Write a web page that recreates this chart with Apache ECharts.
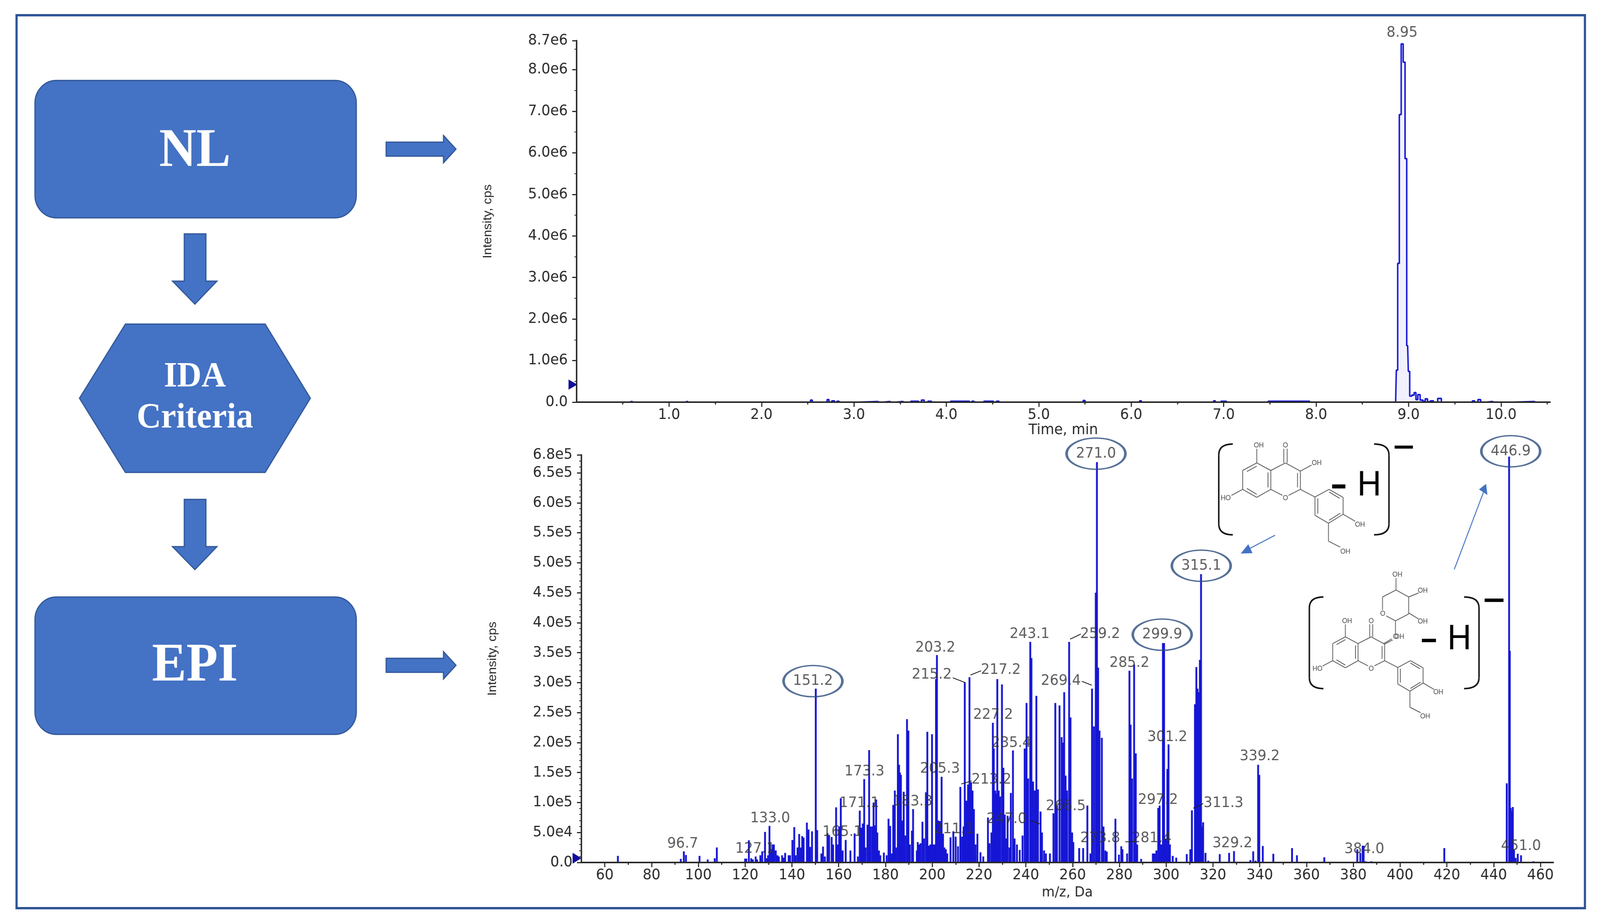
<!DOCTYPE html>
<html>
<head>
<meta charset="utf-8">
<title>NL / IDA / EPI</title>
<style>
  html, body { margin: 0; padding: 0; background: #fff; overflow: hidden; }
  #main { width: 4351px; height: 2364px; transform-origin: 0 0; }
</style>
<script src="https://cdn.jsdelivr.net/npm/echarts@6/dist/echarts.min.js"></script>
</head>
<body>
<div id="main"></div>
<script>
// tick labels
var ticYTicks = [0, 1e6, 2e6, 3e6, 4e6, 5e6, 6e6, 7e6, 8e6, 8.7e6];
var ticXTicks = [1, 2, 3, 4, 5, 6, 7, 8, 9, 10];
var ticXMinor = [0.5, 1.5, 2.5, 3.5, 4.5, 5.5, 6.5, 7.5, 8.5, 9.5, 10.5];
var epiYTicks = [0, 5e4, 1e5, 1.5e5, 2e5, 2.5e5, 3e5, 3.5e5, 4e5, 4.5e5, 5e5, 5.5e5, 6e5, 6.5e5, 6.8e5];
var epiXTicks = [60, 80, 100, 120, 140, 160, 180, 200, 220, 240, 260, 280, 300, 320, 340, 360, 380, 400, 420, 440, 460];
var epiXMinor = [70, 90, 110, 130, 150, 170, 190, 210, 230, 250, 270, 290, 310, 330, 350, 370, 390, 410, 430, 450];

// NL trace, time (min) and intensity (cps)
var ticPoints = [
  [0.57,0],[0.59,1.5e4],[0.61,0],[1.17,0],[1.19,1.5e4],[1.21,0],
  [2.52,0],[2.54,5e4],[2.56,0],[2.70,0],[2.72,6e4],[2.74,0],[2.78,3e4],[2.80,0],[2.83,2e4],[2.85,0],
  [3.25,1.5e4],[3.27,0],[3.38,1.5e4],[3.40,0],[3.52,1.5e4],[3.54,0],[3.69,2e4],[3.71,0],[3.75,5e4],[3.77,0],[3.83,2e4],[3.85,0],
  [4.24,2e4],[4.26,0],[4.29,2e4],[4.31,0],[4.50,2e4],[4.52,0],[4.56,2e4],[4.58,0],
  [5.47,0],[5.49,4e4],[5.51,0],[6.08,0],[6.10,3e4],[6.12,0],[6.88,0],[6.90,3e4],[6.92,0],[7.02,2e4],[7.04,0],[7.92,2e4],[7.94,0],
  [8.86,0],[8.875,0.77e6],[8.89,3.34e6],[8.91,6.92e6],[8.93,8.62e6],[8.954,8.18e6],[8.97,5.86e6],[8.99,1.36e6],
  [9.005,0.74e6],[9.02,0.145e6],[9.05,0.17e6],[9.07,0.23e6],[9.09,0.06e6],[9.11,0.18e6],[9.14,0.05e6],[9.17,0.02e6],[9.19,0.08e6],
  [9.22,0.01e6],[9.25,0.03e6],[9.29,0],[9.34,0.09e6],[9.37,0],
  [9.68,0],[9.70,3e4],[9.73,0],[9.77,6e4],[9.79,0],[9.90,1.5e4],[9.92,0],[10.35,1.5e4],[10.37,0]
];

// EPI spectrum, m/z and intensity (cps)
var epiPeaks = [
  [65.6,1.1e4],[92.5,6e3],[93.8,1.85e4],[94.7,1.25e4],[100.5,1.1e4],[104,5e3],[107,7e3],[107.9,2.5e4],
  [120,6.5e3],[120.5,6.5e3],[121.6,3.7e4],[122.6,7e3],[123.3,5e3],[124.5,1e4],[125.1,5e3],[126.5,1.2e4],[127.3,1.85e4],
  [128.5,5.1e4],[129.2,7e3],[129.8,1.2e4],[130.4,6.1e4],[131.1,2.2e4],[131.8,3e4],[132.3,3e4],[133.1,2e4],[133.8,1.2e4],[134.4,1e4],
  [135.8,1.2e4],[136.4,8e3],[137.1,1.6e4],[138.6,1.2e4],[139.2,1.2e4],[140.2,3.75e4],[141,5.9e4],[141.6,1.2e4],[142.4,2.5e4],[143.1,4.75e4],
  [143.8,2.5e4],[144.4,4.4e4],[145,4.15e4],[146.4,6.65e4],[147.1,5.5e4],[147.8,2.6e4],[148.6,5.2e4],[150.2,2.9e5],[150.8,5.4e4],
  [152.6,1.5e4],[153.3,2.65e4],[154.1,1e4],[155.2,4.9e4],[155.9,4.5e4],[157,4.25e4],[157.6,3e4],[158.9,9.2e4],[159.5,3e4],[160.2,6e4],[160.9,1.07e5],
  [161.7,2e4],[163,3.75e4],[165,2e4],[166.8,4.85e4],[168.2,1e4],[169,8.65e4],[169.7,5.8e4],[170.3,6.5e4],[170.9,1.39e5],[171.5,2.5e4],[172.3,6.3e4],
  [173,1.875e5],[173.5,6e4],[174.3,6e4],[174.9,1e5],[175.5,6.2e4],[176,1.05e5],[176.5,5e4],[177.2,2e4],[177.8,1.2e4],
  [179.3,1.65e4],[180.5,1.2e4],[181.3,7.3e4],[182,6.1e4],[182.6,1.5e4],[183.3,9.6e4],[184,1.2e5],[184.6,2.5e4],[185.3,2.14e5],[185.8,1.63e5],
  [186.2,1.5e5],[186.6,1.46e5],[187.2,7e4],[187.8,1.18e5],[188.4,4.5e4],[189.2,2.39e5],[189.8,2.2e5],[190.4,3e4],[191.3,5.3e4],[191.8,8.9e4],
  [193.4,2e4],[193.8,3.4e4],[194.4,3e4],[195,3.2e4],[195.8,6.8e4],[196.5,4e4],[197.3,1.17e5],[197.9,2.18e5],[198.5,2.8e4],[199.2,3e4],[199.9,2.14e5],
  [200.5,3e4],[201.1,3e4],[201.6,3.06e5],[202,3.46e5],[202.6,7e4],[203.3,6.9e4],[204,1.43e5],[204.6,4.8e4],[205.2,2.5e4],[205.8,2.2e4],[206.4,1.5e4],
  [207.8,4.2e4],[209,5.2e4],[210,4.3e4],[211,2.7e4],[212,1.26e5],[212.8,4.3e4],[213.4,6e4],[213.9,3.01e5],[214.6,1.03e5],[215.3,1.3e5],[215.9,3.09e5],
  [216.2,1.2e5],[216.6,1.34e5],[217.2,1.2e5],[217.8,8.9e4],[218.5,3e4],[219.3,4.8e4],[220.6,1.7e4],[221.8,1e4],
  [223.8,7.5e4],[224.5,3.2e4],[225.3,5e4],[225.9,2.33e5],[226.3,1.9e5],[226.9,1.2e5],[227.4,1.15e5],[227.8,3.06e5],[228.4,1.2e5],[229,1.1e5],[229.8,2.97e5],
  [230.4,1.58e5],[231,8e4],[231.6,4e4],[232.2,7.8e4],[233,2.5e4],[233.6,1.16e5],[234.5,1.87e5],[235.2,4e4],[236.2,3e4],[237.4,2.1e4],[238.6,4.5e4],[239.5,1.9e5],
  [240.3,2.66e5],[241,1.4e5],[241.9,3.68e5],[242.4,3.41e5],[243.1,1.35e5],[243.8,1.2e5],[244.5,2.78e5],[245.2,1.22e5],[246.3,8.5e4],[246.9,5e4],
  [247.8,2e4],[248.6,1.5e4],[250.3,1.5e4],[251.8,8.2e4],[252.6,2.66e5],[253.3,9.5e4],[254.4,2.62e5],[255.3,2.09e5],[255.9,2e5],[256.4,2.84e5],[257,1.45e5],
  [257.6,1.2e5],[258.5,3.68e5],[259.1,2.42e5],[259.8,5e4],[260.3,3.4e4],[262.8,2.4e4],[264.5,2.4e4],[266.3,9.5e4],
  [267.6,1.5e4],[268.3,2.9e5],[269.1,2.27e5],[269.9,4.5e5],[270.4,6.68e5],[270.9,3.25e5],[271.5,2.2e5],[272.5,2.08e5],[273.2,6e4],[274,2e4],[274.6,1.8e4],
  [278.3,7.3e4],[279.8,1.3e4],[280.8,2.7e4],[281.3,2.2e4],[283.3,1.5e4],[284.3,3.2e5],[284.8,2.3e5],[285.4,1.4e5],[286.3,3.3e5],[287,1.82e5],
  [287.6,3e4],[289.3,6e3],[294.3,1.5e4],[295,1.5e4],[295.8,2e4],[296.6,9.1e4],[297.2,9.5e4],[297.9,3e4],[298.6,3.66e5],[299.1,3.66e5],[299.8,4e4],[300.5,1.56e5],
  [301,1.97e5],[301.6,3e4],[302.8,1.1e4],[304.3,8e3],[308.8,1.4e4],[310.3,2.2e4],[311,8.7e4],[312.3,2.64e5],[312.9,3.26e5],[313.4,2.9e5],[313.8,2.84e5],
  [314.4,3.38e5],[314.9,4.81e5],[315.4,6e4],[315.8,6.7e4],[316.8,1.6e4],[318,3e3],[322.9,1.4e4],[326.9,1.6e4],[329,1.9e4],
  [336,4e3],[337.2,1.85e4],[338.2,3e3],[339.3,1.63e5],[339.8,1.46e5],[341.3,2.75e4],[345.8,1.45e4],[353.8,2.4e4],[355.9,1.2e4],[367.6,8.7e3],
  [381.7,2.2e4],[383,1.6e4],[384,2.8e4],[384.4,2.8e4],[385.3,2e3],[387.7,2e3],[418.9,2.4e4],
  [445.6,1.32e5],[446.6,6.77e5],[446.9,3.53e5],[447.3,9.1e4],[447.8,8.6e4],[448.2,9.25e4],[448.7,2.1e4],[449.4,7.6e3],[450.3,1.45e4],[451.7,1.2e4],[457,2e3]
];

// peak annotations: text, m/z, intensity at the centre of the text
var epiLabels = [
  ['96.7',93.3,3.1e4],['127.1',124.3,2.25e4],['133.0',130.7,7.35e4],['165.1',161.6,5.1e4],['171.1',168.8,9.9e4],['173.3',171,1.515e5],
  ['183.3',191.6,1.017e5],['205.3',203.3,1.56e5],['203.2',201.3,3.58e5],['215.2',199.8,3.13e5],['217.2',229.3,3.21e5],['227.2',226,2.46e5],
  ['235.4',233.8,1.99e5],['213.2',225.3,1.38e5],['211.1',209.3,5.5e4],['247.0',231.8,7.2e4],['243.1',241.6,3.81e5],['259.2',271.8,3.81e5],
  ['269.4',255,3.03e5],['285.2',284.3,3.33e5],['301.2',300.5,2.09e5],['297.2',296.5,1.04e5],['311.3',324.5,9.9e4],['266.5',257.1,9.4e4],
  ['273.8',271.8,4e4],['281.4',293.8,4e4],['329.2',328.3,3.2e4],['339.2',340,1.77e5],['384.0',384.7,2.2e4],['451.0',451.7,2.7e4]
];
var epiCircled = [
  ['151.2',149,3.025e5],['271.0',270,6.82e5],['299.9',298.3,3.8e5],['315.1',315,4.95e5],['446.9',447.3,6.86e5]
];
var ticLabels = [['8.95',8.93,8.89e6]];

var blue = '#4472C4', edge = '#2F5597', trace = '#1616D6', ink = '#2a2a2a';
var tickFont = 'DejaVu Sans';

function sciLabel(v) {
  if (v === 0) return '0.0';
  return v.toExponential(1).replace('e+', 'e');
}
function mainX(grid, min, max, ticks, fmt, name, gap, nameSize) {
  return {
    type: 'value', gridIndex: grid, min: min, max: max, position: 'bottom', splitLine: { show: false }, z: 5,
    name: name, nameLocation: 'middle', nameGap: gap,
    nameTextStyle: { fontFamily: tickFont, fontSize: nameSize, color: ink },
    axisLine: { onZero: false, lineStyle: { color: ink, width: 4 } },
    axisTick: { customValues: ticks, length: 12, lineStyle: { color: ink, width: 3 } },
    axisLabel: { customValues: ticks, formatter: fmt, fontFamily: tickFont, fontSize: 38, color: ink, margin: 14 }
  };
}
function minorX(grid, min, max, ticks) {
  return {
    type: 'value', gridIndex: grid, min: min, max: max, position: 'bottom', splitLine: { show: false },
    axisLine: { show: false }, axisLabel: { show: false },
    axisTick: { customValues: ticks, length: 6, lineStyle: { color: ink, width: 3 } }
  };
}
function mainY(grid, max, ticks, step) {
  return {
    type: 'value', gridIndex: grid, min: 0, max: max, interval: step, splitLine: { show: false },
    name: 'Intensity, cps', nameLocation: 'middle', nameGap: 225, nameRotate: 90,
    nameTextStyle: { fontFamily: 'Liberation Sans', fontSize: 33, color: ink },
    axisLine: { onZero: false, lineStyle: { color: ink, width: 4 } },
    axisTick: { length: 12, lineStyle: { color: ink, width: 3 } },
    minorTick: { show: true, splitNumber: grid === 0 ? 2 : 5, length: 6, lineStyle: { color: ink, width: 2 } },
    axisLabel: { customValues: ticks, formatter: sciLabel, fontFamily: tickFont, fontSize: 38, color: ink, margin: 24 }
  };
}
function textSeries(x, y, rows) {
  return {
    type: 'scatter', xAxisIndex: x, yAxisIndex: y, clip: false, symbolSize: 1, z: 6, silent: true,
    itemStyle: { color: 'rgba(0,0,0,0)' },
    label: {
      show: true, position: 'inside', fontFamily: tickFont, fontSize: 38, color: '#333',
      formatter: function (p) { return p.data[0]; }
    },
    encode: { x: 1, y: 2 },
    data: rows
  };
}

// flow chart pieces
var shapes = [];
var boxStyle = { fill: blue, stroke: edge, lineWidth: 3 };
function poly(points, style) { shapes.push({ type: 'polygon', shape: { points: points }, style: style || boxStyle }); }
function label(x, y, text, font, fill) {
  shapes.push({ type: 'text', x: x, y: y, z: 10, style: { text: text, font: font, fill: fill, textAlign: 'center', textVerticalAlign: 'middle' } });
}
function arrowRight(cy) {
  poly([[1050,cy-18],[1206,cy-18],[1206,cy-35],[1240,cy],[1206,cy+35],[1206,cy+18],[1050,cy+18]]);
}
function arrowDown(top) {
  poly([[501,top],[560,top],[560,top+121],[590,top+121],[530,top+180],[469,top+121],[501,top+121]]);
}
shapes.push({ type: 'rect', shape: { x: 45, y: 39, width: 4265, height: 2287 }, style: { fill: 'none', stroke: edge, lineWidth: 6 } });
shapes.push({ type: 'rect', shape: { x: 95, y: 206, width: 874, height: 352, r: 58 }, style: boxStyle });
shapes.push({ type: 'rect', shape: { x: 95, y: 1529, width: 874, height: 352, r: 58 }, style: boxStyle });
poly([[341,830],[721,830],[844,1020],[721,1210],[341,1210],[216,1020]]);
arrowRight(382);
arrowRight(1704);
arrowDown(599);
arrowDown(1279);
label(530, 389, 'NL', 'bold 140px "Liberation Serif"', '#fff');
label(530, 1707, 'EPI', 'bold 140px "Liberation Serif"', '#fff');
label(530, 966, 'IDA', 'bold 92px "Liberation Serif"', '#fff');
label(530, 1071, 'Criteria', 'bold 92px "Liberation Serif"', '#fff');

// precursor markers on the y axes
poly([[1546,972],[1570,985],[1546,998]], { fill: '#10109A' });
poly([[1557,2184],[1581,2198],[1557,2212]], { fill: '#10109A' });

// leader lines of the peak labels
[[2591,1736,2624,1748],[2639,1729,2668,1718],[2614,2008,2642,2000],[2910,1637,2939,1624],[2942,1745,2969,1755],
 [2802,2102,2827,2110],[3245,2070,3272,2058],[3060,2156,3086,2156]].forEach(function (l) {
  shapes.push({ type: 'line', z: 5, shape: { x1: l[0], y1: l[1], x2: l[2], y2: l[3] }, style: { stroke: '#222', lineWidth: 2 } });
});

// structures: drawn in the coordinates of a 3x crop, then mapped to the page
function px(p) { return [3100 + p[0] / 1.307, 1080 + p[1] / 1.96]; }
function bond(a, b, map, width, color) {
  var s = px(map(a)), e = px(map(b));
  shapes.push({ type: 'line', z: 8, shape: { x1: s[0], y1: s[1], x2: e[0], y2: e[1] }, style: { stroke: color || '#555', lineWidth: width || 2 } });
}
function atom(p, text, map) {
  var c = px(map(p));
  shapes.push({ type: 'rect', z: 8, shape: { x: c[0] - 9, y: c[1] - 8, width: 18, height: 16 }, style: { fill: '#fff' } });
  label(c[0], c[1], text, '18px "Liberation Sans"', '#444');
}
function flavonol(map) {
  var paths = [
    [[415,207],[465,245],[465,340],[415,380],[365,340],[365,245],[415,207]],
    [[465,245],[517,207],[570,248],[570,340],[517,378],[465,340]],
    [[570,340],[622,378],[672,340],[722,380],[722,465],[670,510],[622,470],[622,378]],
    [[415,207],[415,135]], [[570,248],[610,218]], [[365,340],[325,370]], [[722,465],[765,500]],
    [[670,510],[670,600],[712,630]], [[511,207],[511,135]], [[523,207],[523,135]],
    [[380,250],[415,223]], [[455,255],[455,330]], [[380,335],[415,365]], [[560,258],[560,330]],
    [[672,353],[710,385]], [[712,460],[672,495]], [[632,385],[632,462]]
  ];
  paths.forEach(function (path) {
    for (var i = 1; i < path.length; i++) bond(path[i - 1], path[i], map);
  });
  atom([422,120], 'OH', map); atom([517,120], 'O', map); atom([628,208], 'OH', map); atom([305,385], 'HO', map);
  atom([517,385], 'O', map); atom([782,517], 'OH', map); atom([730,652], 'OH', map);
}
function same(p) { return p; }
function shrunk(p) { return [685 + (p[0] - 365) * 0.9, 1080 + (p[1] - 207) * 0.9]; }
flavonol(same);
flavonol(shrunk);
[[[865,1115],[895,1090]], [[908,1065],[908,1000]], [[908,1000],[955,965]], [[955,965],[955,880]], [[955,880],[910,845]],
 [[910,845],[862,880]], [[862,880],[862,945]], [[875,975],[908,1000]], [[910,845],[910,785]], [[955,880],[990,860]], [[955,960],[990,990]]]
  .forEach(function (b) { bond(b[0], b[1], same); });
atom([863,965], 'O', same); atom([908,1080], 'O', same); atom([915,768], 'OH', same); atom([1005,848], 'OH', same); atom([1005,1003], 'OH', same);

function bracket(tip, outer, top, bottom) {
  var a = px([tip, top]), b = px([outer, top + 55]), c = px([outer, bottom - 55]), d = px([tip, bottom]), k = px([outer, top]), m = px([outer, bottom]);
  var st = { stroke: '#111', lineWidth: 4, fill: 'none' };
  shapes.push({ type: 'bezierCurve', z: 8, shape: { x1: a[0], y1: a[1], x2: b[0], y2: b[1], cpx1: k[0], cpy1: k[1] }, style: st });
  shapes.push({ type: 'line', z: 8, shape: { x1: b[0], y1: b[1], x2: c[0], y2: c[1] }, style: st });
  shapes.push({ type: 'bezierCurve', z: 8, shape: { x1: c[0], y1: c[1], x2: d[0], y2: d[1], cpx1: m[0], cpy1: m[1] }, style: st });
}
bracket(330, 280, 112, 568);
bracket(832, 885, 112, 568);
bracket(652, 602, 880, 1340);
bracket(1152, 1205, 880, 1340);
[[905,120,970,135],[683,315,730,335],[1225,888,1292,905],[1002,1090,1052,1107]].forEach(function (r) {
  var a = px([r[0], r[1]]), b = px([r[2], r[3]]);
  shapes.push({ type: 'rect', z: 9, shape: { x: a[0], y: a[1], width: b[0] - a[0], height: b[1] - a[1] }, style: { fill: '#000' } });
});
var h1 = px([815,322]), h2 = px([1135,1095]);
label(h1[0], h1[1], 'H', '90px "Liberation Sans"', '#000');
label(h2[0], h2[1], 'H', '90px "Liberation Sans"', '#000');
bond([480,570], [385,640], same, 2.5, blue);
bond([1117,742], [1222,350], same, 2.5, blue);
poly([[358,662],[400,660],[385,615]].map(px), { fill: blue });
poly([[1205,340],[1230,312],[1235,368]].map(px), { fill: blue });

// the browser window can be narrower than the 4351 wide figure, so fit the figure into it
var box = document.getElementById('main');
box.style.transform = 'scale(' + (window.innerWidth / 4351) + ',' + (window.innerHeight / 2364) + ')';

var chart = echarts.init(box, null, { width: 4351, height: 2364 });
var option = {
  animation: false,
  backgroundColor: '#fff',
  grid: [
    { left: 1568, top: 104, width: 2647, height: 926 },
    { left: 1581, top: 1165, width: 2643, height: 1044 }
  ],
  xAxis: [
    mainX(0, 0, 10.53, ticXTicks, function (v) { return v.toFixed(1); }, 'Time, min', 52, 38),
    minorX(0, 0, 10.53, ticXMinor),
    mainX(1, 50, 465.5, epiXTicks, function (v) { return String(v); }, 'm/z, Da', 60, 36),
    minorX(1, 50, 465.5, epiXMinor)
  ],
  yAxis: [
    mainY(0, 8.7e6, ticYTicks, 1e6),
    mainY(1, 6.8e5, epiYTicks, 5e4)
  ],
  graphic: { elements: shapes },
  series: [
    {
      type: 'line', xAxisIndex: 0, yAxisIndex: 0, step: 'middle', showSymbol: false, clip: false, z: 3,
      lineStyle: { color: trace, width: 4 }, areaStyle: { color: 'rgba(90,90,235,0.12)' },
      data: ticPoints
    },
    textSeries(0, 0, ticLabels),
    {
      type: 'bar', xAxisIndex: 2, yAxisIndex: 1, barWidth: 5, z: 3,
      itemStyle: { color: trace },
      data: epiPeaks
    },
    textSeries(2, 1, epiLabels),
    textSeries(2, 1, epiCircled),
    {
      type: 'scatter', xAxisIndex: 2, yAxisIndex: 1, clip: false, symbol: 'circle', symbolSize: [160, 80], z: 5, silent: true,
      itemStyle: { color: 'rgba(0,0,0,0)', borderColor: '#2A4B7C', borderWidth: 5 },
      encode: { x: 1, y: 2 },
      data: epiCircled
    }
  ]
};
chart.setOption(option);
</script>
</body>
</html>
